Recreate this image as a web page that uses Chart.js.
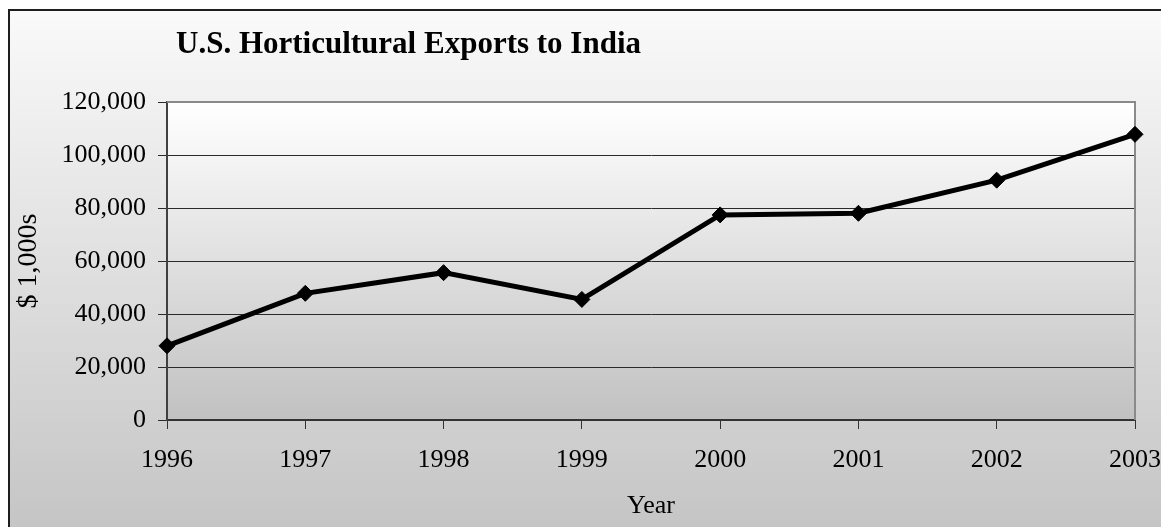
<!DOCTYPE html>
<html>
<head>
<meta charset="utf-8">
<title>U.S. Horticultural Exports to India</title>
<script src="https://cdn.jsdelivr.net/npm/chart.js@4/dist/chart.umd.min.js"></script>
<style>
  html, body { margin: 0; padding: 0; background: #ffffff; }
  #wrap { width: 1161px; height: 527px; }
  canvas { display: block; }
</style>
</head>
<body>
<div id="wrap"><canvas id="chart" width="1161" height="527"></canvas></div>
<script>
// Horticultural exports to India, thousands of US dollars
const years = ['1996', '1997', '1998', '1999', '2000', '2001', '2002', '2003'];
const exportValues = [28000, 47800, 55600, 45500, 77400, 78000, 90500, 107800];

const chartTitle = 'U.S. Horticultural Exports to India';
const xAxisTitle = 'Year';
const yAxisTitle = '$ 1,000s';
const yMin = 0;
const yMax = 120000;
const yStep = 20000;

const serif = '"Liberation Serif", "Times New Roman", Times, serif';

// Background, frame, plot gradient and chart title
const framePlugin = {
  id: 'frame',
  beforeDraw(chart) {
    const { ctx, width, height, chartArea: a } = chart;
    ctx.save();
    ctx.fillStyle = '#ffffff';
    ctx.fillRect(0, 0, width, height);
    const outer = ctx.createLinearGradient(0, 9, 0, height);
    outer.addColorStop(0, '#fafafa');
    outer.addColorStop(1, '#c5c5c5');
    ctx.fillStyle = outer;
    ctx.fillRect(9, 10, width - 9, height - 10);
    ctx.strokeStyle = '#1e1e1e';
    ctx.lineWidth = 2;
    ctx.beginPath();
    ctx.moveTo(9, height + 2);
    ctx.lineTo(9, 10);
    ctx.lineTo(width + 2, 10);
    ctx.stroke();

    const inner = ctx.createLinearGradient(0, a.top, 0, a.bottom);
    inner.addColorStop(0, '#ffffff');
    inner.addColorStop(1, '#c1c1c1');
    ctx.fillStyle = inner;
    ctx.fillRect(a.left, a.top, a.right - a.left, a.bottom - a.top);

    ctx.fillStyle = '#000000';
    ctx.font = 'bold 31px ' + serif;
    ctx.textAlign = 'left';
    ctx.textBaseline = 'alphabetic';
    ctx.fillText(chartTitle, 176, 53);
    ctx.restore();
  },
  beforeDatasetsDraw(chart) {
    const { ctx, chartArea: a } = chart;
    ctx.save();
    ctx.strokeStyle = '#8a8a8a';
    ctx.lineWidth = 2;
    ctx.beginPath();
    ctx.moveTo(a.left, a.top);
    ctx.lineTo(a.right, a.top);
    ctx.lineTo(a.right, a.bottom);
    ctx.stroke();
    ctx.restore();
  }
};

new Chart(document.getElementById('chart'), {
  type: 'line',
  data: {
    labels: years,
    datasets: [{
      label: chartTitle,
      data: exportValues,
      borderColor: '#000000',
      borderWidth: 5,
      backgroundColor: '#000000',
      pointStyle: 'rectRot',
      pointRadius: 8,
      pointBackgroundColor: '#000000',
      pointBorderColor: '#000000',
      pointBorderWidth: 1,
      tension: 0,
      fill: false,
      clip: false
    }]
  },
  options: {
    responsive: false,
    devicePixelRatio: 1,
    animation: false,
    layout: { padding: { top: 102, right: 26, bottom: 0, left: 0 } },
    plugins: {
      legend: { display: false },
      title: { display: false },
      tooltip: { enabled: false }
    },
    scales: {
      x: {
        type: 'category',
        offset: false,
        afterFit(scale) {
          scale.height = 107;
          scale.paddingLeft = 0;
          scale.paddingRight = 0;
        },
        grid: {
          drawOnChartArea: false,
          drawTicks: true,
          tickLength: 9,
          color: '#333333',
          lineWidth: 1
        },
        border: { display: true, color: '#333333', width: 2 },
        ticks: {
          color: '#000000',
          font: { family: serif, size: 26 },
          padding: 16,
          maxRotation: 0,
          autoSkip: false
        },
        title: {
          display: true,
          text: xAxisTitle,
          color: '#000000',
          font: { family: serif, size: 26 },
          padding: { top: 0, bottom: 5 }
        }
      },
      y: {
        min: yMin,
        max: yMax,
        afterFit(scale) {
          scale.width = 167;
          scale.paddingTop = 0;
          scale.paddingBottom = 0;
        },
        grid: {
          drawOnChartArea: true,
          drawTicks: true,
          tickLength: 9,
          color: '#2a2a2a',
          lineWidth: 1
        },
        border: { display: true, color: '#404040', width: 2 },
        ticks: {
          stepSize: yStep,
          color: '#000000',
          font: { family: serif, size: 26 },
          padding: 12,
          callback: (v) => v.toLocaleString('en-US')
        },
        title: {
          display: true,
          text: yAxisTitle,
          color: '#000000',
          font: { family: serif, size: 28 },
          padding: { top: 12, bottom: 0 }
        }
      }
    }
  },
  plugins: [framePlugin]
});
</script>
</body>
</html>
